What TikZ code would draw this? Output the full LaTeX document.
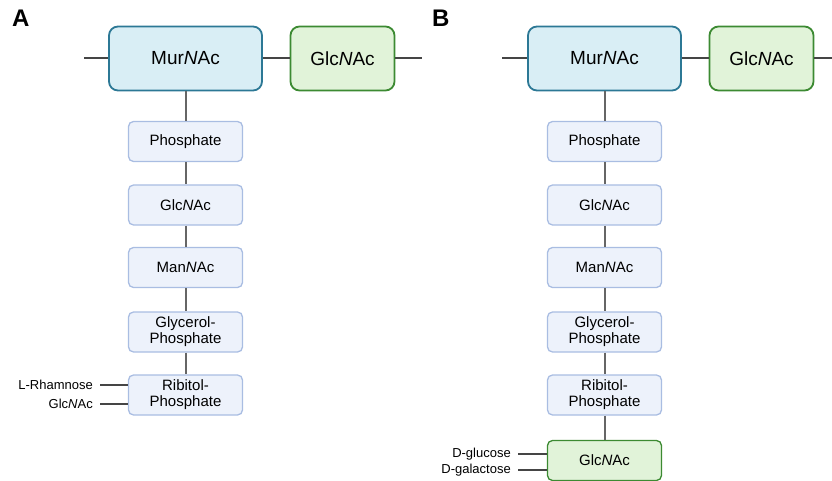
\documentclass[tikz,border=0pt]{standalone}
\usepackage{fontspec}
\setmainfont{Liberation Sans}
\definecolor{murfill}{HTML}{D9EEF5}
\definecolor{murline}{HTML}{2C7895}
\definecolor{glcfill}{HTML}{E1F3D9}
\definecolor{glcline}{HTML}{3C8A32}
\definecolor{boxfill}{HTML}{EDF2FB}
\definecolor{boxline}{HTML}{A9BDE2}
\definecolor{linkgray}{HTML}{454545}
\tikzset{
  murbox/.style={draw=murline,fill=murfill,line width=1.8pt,rounded corners=9pt,
    minimum width=153pt,minimum height=64pt,font=\fontsize{19}{22}\selectfont},
  glcbox/.style={draw=glcline,fill=glcfill,line width=1.8pt,rounded corners=9pt,
    minimum width=104pt,minimum height=64pt,font=\fontsize{19}{22}\selectfont},
  unitbox/.style={draw=boxline,fill=boxfill,line width=1.3pt,rounded corners=5pt,
    minimum width=114pt,minimum height=40pt,align=center,inner sep=0pt,
    font=\fontsize{15}{16}\selectfont},
  sugarbox/.style={unitbox,draw=glcline,fill=glcfill},
  link/.style={draw=linkgray,line width=2pt},
  stem/.style={draw=gray!80!black,line width=2pt},
  sidelabel/.style={anchor=east,inner sep=0pt,font=\fontsize{13}{14}\selectfont},
  panel/.style={anchor=north west,inner sep=0pt,font=\fontsize{24}{26}\selectfont\bfseries}
}
\begin{document}
\begin{tikzpicture}[x=1pt,y=-1pt]
\useasboundingbox (0,0) rectangle (832,481);

% panel A
\node[panel] (labA) at (12,10) {A};
\node[murbox] (murA) at (185.5,58.5) {Mur\textit{N}Ac};
\node[glcbox] (glcA) at (342.5,58.5) {Glc\textit{N}Ac};
\coordinate (inA) at (84,58.5);
\coordinate (outA) at (422,58.5);
\draw[link] (inA) -- (murA);
\draw[link] (murA) -- (glcA);
\draw[link] (glcA) -- (outA);

\node[unitbox] (phosA) at (185.5,141.5) {Phosphate};
\node[unitbox] (glcnA) at (185.5,205) {Glc\textit{N}Ac};
\node[unitbox] (mannA) at (185.5,267.5) {Man\textit{N}Ac};
\node[unitbox] (glyA) at (185.5,332) {Glycerol-\\Phosphate};
\node[unitbox] (ribA) at (185.5,395) {Ribitol-\\Phosphate};
\draw[stem] (murA) -- (phosA);
\draw[stem] (phosA) -- (glcnA);
\draw[stem] (glcnA) -- (mannA);
\draw[stem] (mannA) -- (glyA);
\draw[stem] (glyA) -- (ribA);

\coordinate (rhaA) at (100,385);
\coordinate (nagA) at (100,403.5);
\draw[link] (rhaA) -- (rhaA -| ribA.west);
\draw[link] (nagA) -- (nagA -| ribA.west);
\node[sidelabel] at ([xshift=-7pt]rhaA) {L-Rhamnose};
\node[sidelabel] at ([xshift=-7pt]nagA) {Glc\textit{N}Ac};

% panel B
\node[panel] (labB) at (432,10) {B};
\node[murbox] (murB) at (604.5,58.5) {Mur\textit{N}Ac};
\node[glcbox] (glcB) at (761.5,58.5) {Glc\textit{N}Ac};
\coordinate (inB) at (502,58.5);
\coordinate (outB) at (832,58.5);
\draw[link] (inB) -- (murB);
\draw[link] (murB) -- (glcB);
\draw[link] (glcB) -- (outB);

\node[unitbox] (phosB) at (604.5,141.5) {Phosphate};
\node[unitbox] (glcnB) at (604.5,205) {Glc\textit{N}Ac};
\node[unitbox] (mannB) at (604.5,267.5) {Man\textit{N}Ac};
\node[unitbox] (glyB) at (604.5,332) {Glycerol-\\Phosphate};
\node[unitbox] (ribB) at (604.5,395) {Ribitol-\\Phosphate};
\node[sugarbox] (endB) at (604.5,460.5) {Glc\textit{N}Ac};
\draw[stem] (murB) -- (phosB);
\draw[stem] (phosB) -- (glcnB);
\draw[stem] (glcnB) -- (mannB);
\draw[stem] (mannB) -- (glyB);
\draw[stem] (glyB) -- (ribB);
\draw[stem] (ribB) -- (endB);

\coordinate (gluB) at (518,454);
\coordinate (galB) at (518,470);
\draw[link] (gluB) -- (gluB -| endB.west);
\draw[link] (galB) -- (galB -| endB.west);
\node[sidelabel] at ([xshift=-7pt]gluB) {D-glucose};
\node[sidelabel] at ([xshift=-7pt]galB) {D-galactose};
\end{tikzpicture}
\end{document}
